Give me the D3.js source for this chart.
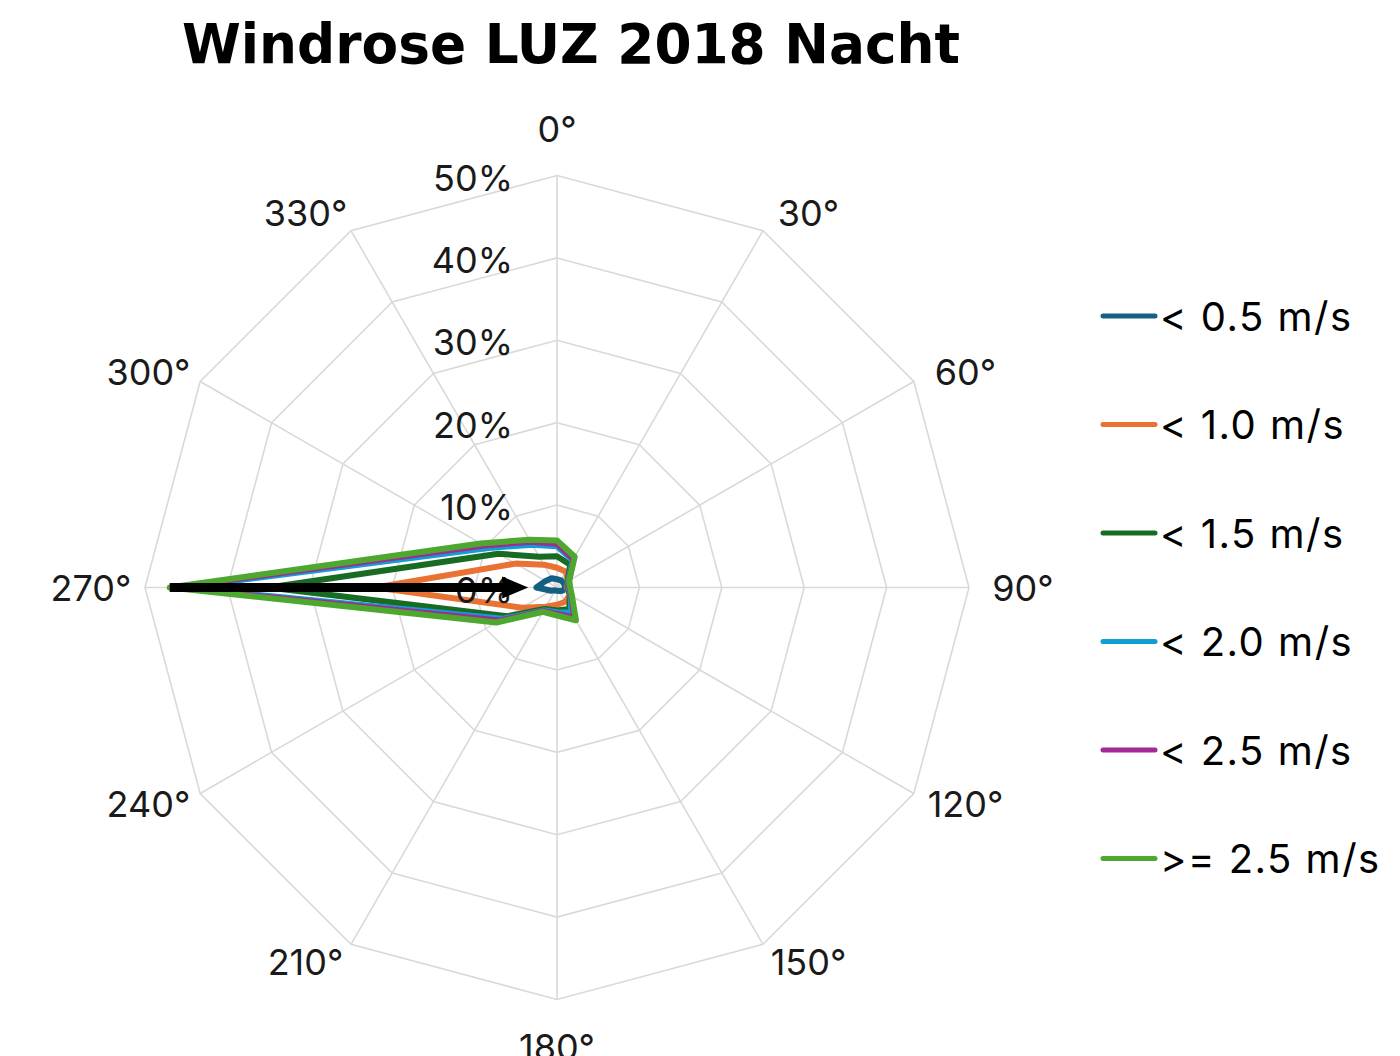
<!DOCTYPE html>
<html lang="de">
    <head>
	<meta charset="utf-8">
	<title>Windrose LUZ 2018 Nacht</title>
	<script src="https://cdn.jsdelivr.net/npm/d3@7/dist/d3.min.js" charset="utf-8"></script>
	<style>
	 body { margin: 0; background: #fff; }
	</style>
    </head>
    <body>
	<script type="text/javascript">

	 // Daten (Anteil in %, je Richtung)
	 var directions = [0, 30, 60, 90, 120, 150, 180, 210, 240, 270, 300, 330];
	 var dirLabels = ["0°", "30°", "60°", "90°", "120°", "150°", "180°", "210°", "240°", "270°", "300°", "330°"];
	 var seriesNames = ["< 0.5 m/s", "< 1.0 m/s", "< 1.5 m/s", "< 2.0 m/s", "< 2.5 m/s", ">= 2.5 m/s"];
	 var lt05 = [1.0, 1.0, 1.0, 1.0, 0.8, 0.5, 0.4, 0.4, 0.8, 2.5, 1.6, 1.3];
	 var lt10 = [2.4, 2.2, 1.5, 1.2, 1.8, 2.0, 2.1, 2.7, 4.9, 22.0, 5.8, 3.2];
	 var lt15 = [3.8, 3.2, 1.5, 1.3, 1.8, 3.0, 2.8, 3.0, 7.0, 35.0, 8.2, 4.3];
	 var lt20 = [5.0, 3.8, 1.6, 1.4, 1.9, 3.5, 3.0, 3.2, 7.6, 45.5, 9.6, 6.0];
	 var lt25 = [5.3, 4.0, 1.7, 1.5, 2.0, 4.2, 3.2, 3.3, 8.0, 46.5, 10.2, 6.4];
	 var ge25 = [5.7, 4.3, 1.7, 1.6, 2.1, 4.6, 3.4, 3.4, 8.5, 47.0, 10.7, 6.7];
	 var radialTicks = [0, 10, 20, 30, 40, 50];
	 var colors = ["#156082", "#E97132", "#196B24", "#0F9ED5", "#A02B93", "#4EA72E"];
	 // Pfeil (Annotation) bei 270°, von / bis in %
	 var arrowDir = 270;
	 var arrowFrom = 47;
	 var arrowTo = 3.5;

	 var series = [lt05, lt10, lt15, lt20, lt25, ge25];

	 var width = 1400;
	 var height = 1056;
	 var cx = 557, cy = 587.5;

	 var svg = d3.select("body")
		     .append("svg")
		     .attr("width", width)
		     .attr("height", height);

	 var rScale = d3.scaleLinear()
			.domain([0, 50])
			.range([0, 412]);

	 var rad = function (deg) { return deg * Math.PI / 180; };

	 var chart = svg.append("g")
			.attr("transform", "translate(" + cx + "," + cy + ")");

	 // Gitter
	 var ringLine = d3.lineRadial()
			  .angle(function (d) { return rad(d); })
			  .curve(d3.curveLinearClosed);

	 chart.selectAll(".ring")
	      .data(radialTicks.filter(function (t) { return t > 0; }))
	      .enter()
	      .append("path")
	      .attr("class", "ring")
	      .attr("d", function (t) {
		  return ringLine.radius(rScale(t))(directions);
	      })
	      .attr("fill", "none")
	      .attr("stroke", "#d9d9d9")
	      .attr("stroke-width", 1.6);

	 chart.selectAll(".spoke")
	      .data(directions)
	      .enter()
	      .append("line")
	      .attr("class", "spoke")
	      .attr("x1", 0)
	      .attr("y1", 0)
	      .attr("x2", function (d) { return rScale(50) * Math.sin(rad(d)); })
	      .attr("y2", function (d) { return -rScale(50) * Math.cos(rad(d)); })
	      .attr("stroke", "#d9d9d9")
	      .attr("stroke-width", 1.6);

	 // Richtungsbeschriftung, ausserhalb des Gitters
	 var sgn = function (v) { return Math.abs(v) < 1e-6 ? 0 : (v > 0 ? 1 : -1); };
	 chart.selectAll(".dirLabel")
	      .data(directions)
	      .enter()
	      .append("text")
	      .attr("class", "dirLabel")
	      .attr("x", function (d) {
		  var s = Math.sin(rad(d));
		  return 429 * s + 37 * sgn(s);
	      })
	      .attr("y", function (d) {
		  var c = Math.cos(rad(d));
		  var extra = Math.abs(c) > 0.99 ? 27 * sgn(c) : 0;
		  return -(432 * c + extra);
	      })
	      .attr("text-anchor", "middle")
	      .attr("dominant-baseline", "central")
	      .style("font-family", "Inter, 'Liberation Sans', sans-serif")
	      .style("font-size", "36px")
	      .style("fill", "#1a1a1a")
	      .text(function (d, i) { return dirLabels[i]; });

	 // Datenlinien
	 var dataLine = d3.lineRadial()
			  .angle(function (d, i) { return rad(directions[i]); })
			  .radius(function (d) { return rScale(d); })
			  .curve(d3.curveLinearClosed);

	 chart.selectAll(".series")
	      .data(series)
	      .enter()
	      .append("path")
	      .attr("class", "series")
	      .attr("d", function (d) { return dataLine(d); })
	      .attr("fill", "none")
	      .attr("stroke", function (d, i) { return colors[i]; })
	      .attr("stroke-width", 6)
	      .attr("stroke-linejoin", "round");

	 // Achsenbeschriftung (%)
	 chart.selectAll(".rLabel")
	      .data(radialTicks)
	      .enter()
	      .append("text")
	      .attr("class", "rLabel")
	      .attr("x", -44)
	      .attr("y", function (d) { return -rScale(d) + 2; })
	      .attr("text-anchor", "end")
	      .attr("dominant-baseline", "central")
	      .style("font-family", "Inter, 'Liberation Sans', sans-serif")
	      .style("font-size", "36px")
	      .style("fill", "#1a1a1a")
	      .text(function (d) { return d + "%"; });

	 // Pfeil
	 var ax1 = rScale(arrowFrom) * Math.sin(rad(arrowDir));
	 var ax2 = rScale(arrowTo) * Math.sin(rad(arrowDir));
	 chart.append("line")
	      .attr("x1", ax1)
	      .attr("y1", 0)
	      .attr("x2", ax2 - 22)
	      .attr("y2", 0)
	      .attr("stroke", "#000")
	      .attr("stroke-width", 9);
	 chart.append("path")
	      .attr("d", "M" + ax2 + ",0 L" + (ax2 - 26) + ",-11 L" + (ax2 - 26) + ",11 Z")
	      .attr("fill", "#000");

	 // Titel
	 svg.append("text")
	    .attr("x", 182)
	    .attr("y", 63)
	    .attr("textLength", 778)
	    .attr("lengthAdjust", "spacingAndGlyphs")
	    .style("font-family", "'DejaVu Sans', sans-serif")
	    .style("font-weight", "bold")
	    .style("font-size", "55px")
	    .style("fill", "#000")
	    .text("Windrose LUZ 2018 Nacht");

	 // Legende
	 var legend = svg.selectAll(".legend")
			 .data(seriesNames)
			 .enter()
			 .append("g")
			 .attr("class", "legend")
			 .attr("transform", function (d, i) {
			     return "translate(1100," + (316 + i * 108.5) + ")";
			 });

	 legend.append("line")
	       .attr("x1", 3)
	       .attr("x2", 55)
	       .attr("y1", 0)
	       .attr("y2", 0)
	       .attr("stroke", function (d, i) { return colors[i]; })
	       .attr("stroke-width", 5)
	       .attr("stroke-linecap", "round");

	 legend.append("text")
	       .attr("x", 60)
	       .attr("y", 0)
	       .attr("dominant-baseline", "central")
	       .style("font-family", "Inter, 'Liberation Sans', sans-serif")
	       .style("font-size", "40px")
	       .style("letter-spacing", "1.5px")
	       .style("fill", "#000")
	       .text(function (d) { return d; });

	</script>
    </body>
</html>
